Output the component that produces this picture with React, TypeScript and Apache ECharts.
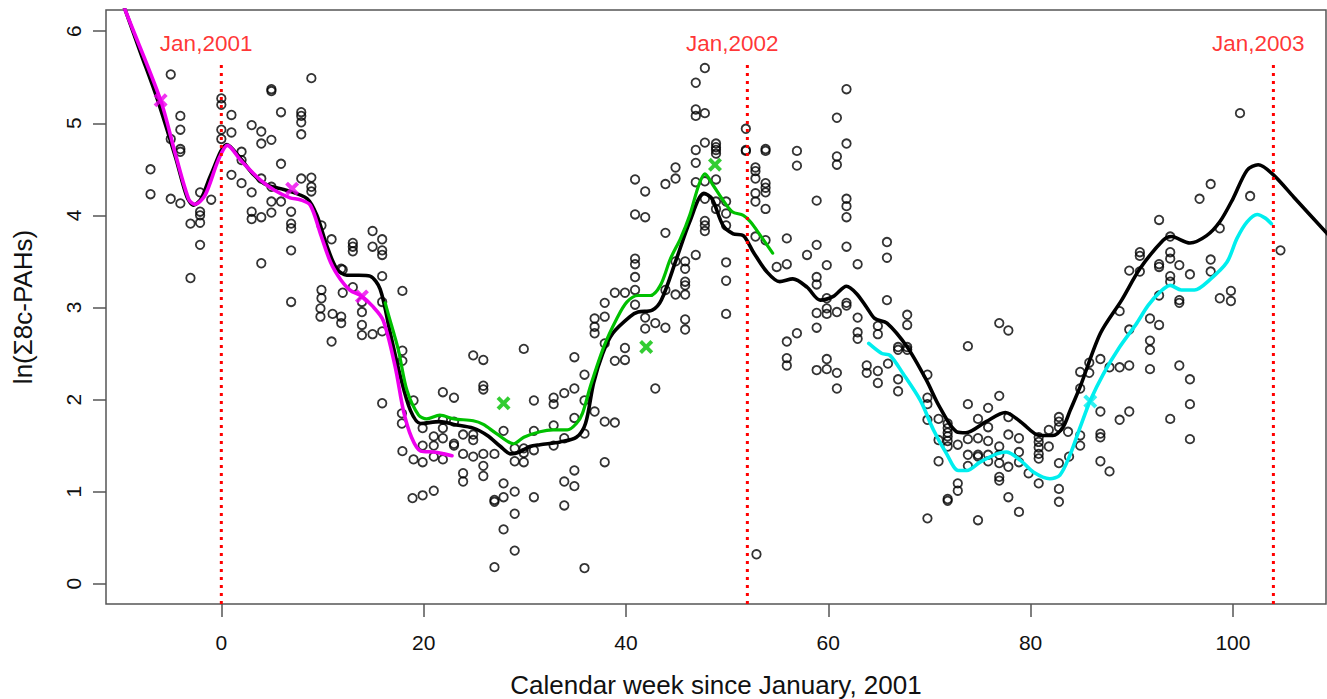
import { useEffect, useRef } from "react";
import * as echarts from "echarts";

// Axis ticks
const weekTicks = [0, 20, 40, 60, 80, 100];
const valueTicks = [0, 1, 2, 3, 4, 5, 6];

// Weekly observations: [calendar week, ln(sum 8c-PAHs)]
const observations: [number, number][] = [
  [-7.0, 4.5], [-7.0, 4.23], [-5.0, 5.53], [-4.05, 5.08], [-4.05, 4.93], [-4.05, 4.72], [-4.05, 4.69],
  [-5.0, 4.83], [-5.0, 4.18], [-4.05, 4.13], [-2.1, 4.25], [-2.1, 4.04], [-2.1, 4.0], [-3.05, 3.91],
  [-2.1, 3.92], [-2.1, 3.68], [-3.05, 3.32], [-1.0, 4.17],
  [0, 5.27], [0, 5.2], [0, 4.93], [0, 4.83], [1.0, 5.09], [1.0, 4.9], [1.0, 4.44], [2.0, 4.69], [2.0, 4.6],
  [2.0, 4.35], [3.0, 4.98], [3.0, 4.25], [3.0, 4.04], [3.0, 3.96], [3.95, 4.91], [3.95, 4.78], [3.95, 4.4],
  [3.95, 3.98], [3.95, 3.48], [4.95, 5.37], [4.95, 5.35], [4.95, 4.82], [4.95, 4.31], [4.95, 4.15],
  [4.95, 4.03], [5.9, 5.12], [5.9, 4.56], [5.9, 4.15], [6.9, 4.04], [6.9, 3.91], [6.9, 3.86], [6.9, 3.62],
  [6.9, 3.06], [7.9, 5.12], [7.9, 5.08], [7.9, 5.01], [7.9, 4.88], [7.9, 4.4], [8.9, 5.49], [8.9, 4.41],
  [8.9, 4.31], [8.9, 4.26], [9.9, 3.89], [9.9, 3.19], [9.9, 3.1], [10.9, 3.74], [11.85, 3.42],
  [9.8, 2.99], [9.8, 2.9], [11.0, 2.93], [11.85, 2.9], [11.85, 2.83], [10.9, 2.63],
  [14.95, 3.83], [15.9, 3.74], [13.0, 3.7], [13.0, 3.66], [13.0, 3.61], [14.95, 3.66], [15.9, 3.62],
  [15.9, 3.57], [12.0, 3.41], [15.9, 3.34], [13.0, 3.22], [17.9, 3.18], [12.0, 3.16],
  [13.9, 3.06], [13.9, 2.95], [13.9, 2.81], [13.9, 2.7], [14.95, 2.71], [15.9, 2.74], [15.9, 3.06],
  [17.9, 2.53], [17.9, 2.42], [15.9, 1.96], [19.0, 1.99], [17.85, 1.85], [17.85, 1.74], [17.9, 1.44],
  [19.0, 1.35], [19.9, 1.32], [19.9, 1.69], [19.9, 1.5], [21.0, 1.6], [21.0, 1.5], [21.0, 1.38],
  [21.9, 2.08], [23.0, 2.02], [21.9, 1.78], [21.9, 1.69], [21.9, 1.58], [21.9, 1.35], [23.0, 1.76],
  [23.0, 1.52], [23.0, 1.5], [23.9, 1.62], [23.9, 1.41], [23.9, 1.2], [23.9, 1.11], [24.9, 2.48],
  [25.9, 2.43], [25.9, 2.15], [25.9, 2.11], [24.9, 1.62], [24.9, 1.56], [24.9, 1.38], [25.9, 1.41],
  [25.9, 1.28], [25.9, 1.17], [27.0, 1.41], [18.9, 0.93], [19.9, 0.96], [21.0, 1.01], [27.9, 1.66],
  [27.9, 1.09], [27.9, 0.94], [27.0, 0.91], [27.0, 0.89], [27.9, 0.59], [27.0, 0.18], [29.0, 1.47],
  [29.0, 1.33], [29.0, 1.0], [29.0, 0.76], [29.0, 0.36], [29.9, 2.55], [29.9, 1.47], [29.9, 1.42],
  [29.9, 1.32], [30.9, 1.99], [30.9, 1.66], [30.9, 1.45], [30.9, 0.94], [32.85, 2.02], [32.85, 1.95],
  [32.85, 1.72], [32.85, 1.5], [33.9, 2.07], [33.9, 1.58], [33.9, 1.11], [33.9, 0.85], [34.9, 2.46],
  [34.9, 2.12], [34.9, 1.8], [34.9, 1.23], [34.9, 1.06], [35.9, 2.27], [35.9, 1.99], [35.9, 1.63],
  [35.9, 0.17],
  [47.8, 5.6], [46.9, 5.44], [46.9, 5.15], [46.9, 5.08], [47.8, 5.11], [47.8, 4.79], [46.9, 4.71],
  [48.9, 4.78], [48.9, 4.74], [48.9, 4.71], [48.9, 4.67], [46.9, 4.57], [44.9, 4.52], [44.9, 4.4],
  [43.9, 4.34], [40.9, 4.39], [41.9, 4.26], [40.9, 4.01], [41.9, 3.98], [43.9, 3.81], [46.9, 4.36],
  [47.8, 4.37], [47.8, 4.18], [47.8, 3.94], [47.8, 3.89], [47.8, 3.83], [48.9, 4.39], [48.9, 4.15],
  [48.9, 4.07], [49.9, 4.15], [49.9, 4.02], [49.9, 3.89], [46.9, 3.57], [49.9, 3.49], [49.9, 3.29],
  [51.85, 4.94], [51.85, 4.71], [51.85, 4.7], [52.8, 4.52], [52.8, 4.48], [52.8, 4.4], [52.8, 4.24],
  [52.8, 4.15], [53.8, 4.72], [53.8, 4.7], [53.8, 4.35], [53.8, 4.3], [53.8, 4.25], [53.8, 4.07],
  [53.8, 3.73], [52.8, 3.77], [54.9, 3.44], [55.9, 3.75], [55.9, 3.47], [56.9, 4.7], [56.9, 4.54],
  [57.9, 3.57], [58.85, 4.16], [58.85, 3.68], [58.85, 3.33], [58.85, 3.25], [59.85, 3.46], [59.85, 3.1],
  [44.9, 3.5], [45.85, 3.5], [45.85, 3.42], [45.85, 3.28], [45.85, 3.24], [44.9, 3.14], [45.85, 3.14],
  [43.9, 3.19], [40.9, 3.53], [40.9, 3.47], [40.9, 3.33], [40.9, 3.19], [38.9, 3.16], [39.9, 3.16],
  [37.9, 3.05], [40.9, 3.03],
  [36.9, 2.88], [36.9, 2.79], [36.9, 2.72], [37.9, 2.9], [37.9, 2.61], [36.9, 1.87], [37.9, 1.76],
  [38.9, 1.75], [37.9, 1.32], [38.9, 2.42], [39.9, 2.56], [39.9, 2.43], [41.9, 2.89], [41.9, 2.77],
  [42.9, 2.83], [43.9, 2.78], [42.9, 2.12], [45.85, 2.87], [45.85, 2.76], [49.9, 2.93], [52.9, 0.32],
  [55.9, 2.63], [56.9, 2.72], [55.9, 2.45], [55.9, 2.37], [58.85, 2.94], [58.85, 2.78], [59.85, 2.99],
  [58.85, 2.32], [59.85, 2.44], [59.85, 2.33],
  [61.8, 5.37], [60.85, 5.06], [61.8, 4.78], [60.85, 4.64], [60.85, 4.55], [61.8, 4.18], [61.8, 4.1],
  [61.8, 3.98], [61.8, 3.66], [62.9, 3.47], [65.8, 3.71], [65.8, 3.54], [65.8, 3.08], [61.8, 3.05],
  [59.85, 2.93], [60.85, 2.95], [61.8, 3.02], [62.9, 2.89], [60.85, 2.29], [60.85, 2.12], [62.9, 2.73],
  [62.9, 2.66], [63.8, 2.37], [63.8, 2.29], [64.9, 2.8], [64.9, 2.71], [64.9, 2.31], [64.9, 2.18],
  [65.9, 2.39], [66.9, 2.57], [66.9, 2.54], [66.9, 2.22], [66.9, 2.09], [67.8, 2.92], [67.8, 2.81],
  [67.8, 2.57], [67.8, 2.54], [69.8, 2.27], [69.8, 2.02], [69.8, 1.95], [69.8, 1.78], [70.9, 1.79],
  [70.9, 1.56], [70.9, 1.33], [69.8, 0.71], [71.8, 1.74], [71.8, 1.69], [71.8, 1.64], [71.8, 1.6],
  [71.8, 1.55], [71.8, 1.49], [71.8, 0.92], [71.8, 0.9], [72.8, 1.51], [72.8, 1.09], [72.8, 1.01],
  [73.8, 2.58], [73.8, 1.95], [73.8, 1.57], [73.8, 1.4], [73.8, 1.28], [74.8, 1.79], [74.8, 1.58],
  [74.8, 1.4], [74.8, 1.38], [74.8, 0.69], [75.8, 1.91], [75.8, 1.7], [75.8, 1.55], [75.8, 1.4],
  [75.8, 1.33], [76.9, 2.83], [77.8, 2.75], [76.9, 2.04], [76.9, 1.49], [76.9, 1.4], [76.9, 1.31],
  [76.9, 1.16], [76.9, 1.12], [77.8, 1.81], [77.8, 1.62], [77.8, 1.27], [77.8, 0.94], [78.85, 1.58],
  [78.85, 1.43], [78.85, 1.32], [78.85, 0.78], [79.8, 1.2], [80.8, 1.59], [80.8, 1.54], [80.8, 1.48],
  [80.8, 1.41], [80.8, 1.36], [80.8, 1.09], [81.8, 1.67], [81.8, 1.49], [82.8, 1.81], [82.8, 1.76],
  [82.8, 1.7], [82.8, 1.31], [82.8, 1.03], [82.8, 0.89], [83.7, 1.65],
  [100.7, 5.11], [97.8, 4.34], [96.7, 4.18], [101.7, 4.21], [92.7, 3.95], [98.7, 3.86], [93.8, 3.77],
  [104.7, 3.62], [90.8, 3.6], [90.8, 3.56], [93.8, 3.6], [93.8, 3.53], [94.7, 3.46], [97.8, 3.52],
  [97.8, 3.39], [92.7, 3.47], [92.7, 3.44], [89.75, 3.4], [90.8, 3.39], [93.8, 3.34], [93.8, 3.28],
  [95.75, 3.36], [92.7, 3.13], [94.7, 3.08], [94.7, 3.05], [98.7, 3.1], [99.8, 3.18], [99.8, 3.07],
  [88.8, 2.96], [89.75, 2.76], [91.8, 2.88], [92.7, 2.81], [91.8, 2.64], [91.8, 2.54], [91.8, 2.33],
  [94.7, 2.37], [95.75, 2.22], [95.75, 1.95], [95.75, 1.57], [93.8, 1.79], [89.75, 2.37], [88.8, 2.35],
  [87.8, 2.35], [86.9, 2.44], [85.8, 2.4], [85.8, 2.29], [84.9, 2.3], [84.9, 2.12], [86.9, 1.87],
  [88.8, 1.78], [89.75, 1.87], [86.9, 1.63], [86.9, 1.59], [86.9, 1.33], [87.8, 1.22], [84.9, 1.61],
  [84.9, 1.5], [83.8, 1.38],
];

// Smoothed trend over all weeks
const trendAll: [number, number][] = [
  [-10.5, 6.53], [-9.5, 6.23], [-8.0, 5.77], [-6.35, 5.27], [-4.5, 4.62], [-3.4, 4.2], [-2.74, 4.11],
  [-2.0, 4.18], [-1.0, 4.45], [0.56, 4.77], [1.88, 4.62], [3.2, 4.44], [4.5, 4.33], [6.5, 4.27],
  [8.5, 4.18], [9.45, 4.0], [10.4, 3.68], [11.4, 3.42], [12.4, 3.35], [13.6, 3.35], [14.7, 3.34],
  [15.7, 3.2], [16.7, 2.72], [17.7, 2.25], [18.7, 1.88], [19.7, 1.74], [21.6, 1.76], [23.0, 1.73],
  [24.9, 1.69], [26.3, 1.61], [27.6, 1.49], [28.6, 1.41], [29.5, 1.43], [30.5, 1.49], [31.5, 1.51],
  [33.5, 1.54], [35.1, 1.59], [36.0, 1.74], [36.8, 2.18], [37.7, 2.5], [38.7, 2.72], [40.4, 2.9],
  [41.2, 2.95], [42.6, 2.97], [43.5, 3.08], [45.0, 3.53], [46.3, 3.93], [47.7, 4.24], [48.5, 4.18],
  [49.6, 3.89], [50.6, 3.8], [51.6, 3.78], [52.6, 3.6], [53.9, 3.39], [55.2, 3.28], [56.5, 3.31],
  [57.9, 3.22], [59.2, 3.08], [60.5, 3.12], [61.8, 3.23], [62.8, 3.15], [63.8, 3.0], [64.6, 2.88],
  [65.8, 2.83], [67.8, 2.57], [69.7, 2.21], [71.0, 1.92], [72.7, 1.65], [73.6, 1.64], [75.6, 1.76],
  [77.5, 1.86], [79.0, 1.76], [80.9, 1.61], [82.2, 1.61], [83.2, 1.7], [83.9, 1.88], [84.9, 2.14],
  [86.9, 2.72], [89.0, 3.08], [90.8, 3.42], [93.1, 3.73], [93.9, 3.77], [95.75, 3.7], [97.4, 3.78],
  [98.7, 3.93], [100.0, 4.18], [101.4, 4.49], [102.5, 4.55], [104.0, 4.44], [106.0, 4.2], [109.5, 3.78],
];

// Smoothed trends per year
const trend2001: [number, number][] = [
  [-10.5, 6.55], [-9.5, 6.23], [-6.0, 5.25], [-4.5, 4.65], [-3.2, 4.17], [-2.6, 4.12], [-1.6, 4.22],
  [-0.3, 4.6], [0.6, 4.76], [1.9, 4.6], [3.9, 4.38], [5.3, 4.27], [6.8, 4.19], [7.8, 4.17], [8.8, 4.11],
  [9.8, 3.8], [10.8, 3.49], [11.8, 3.3], [12.7, 3.19], [13.9, 3.12], [14.9, 3.02], [16.0, 2.86],
  [17.2, 2.35], [18.0, 1.88], [18.8, 1.59], [19.7, 1.44], [21.0, 1.43], [22.0, 1.41], [22.8, 1.39],
];
const trend2002: [number, number][] = [
  [16.2, 3.05], [16.5, 2.93], [17.5, 2.54], [18.35, 2.1], [19.5, 1.83], [20.3, 1.79], [21.6, 1.83],
  [23.0, 1.79], [24.9, 1.77], [25.9, 1.73], [27.2, 1.63], [28.9, 1.52], [29.9, 1.59], [31.5, 1.65],
  [32.8, 1.67], [34.2, 1.67], [35.1, 1.74], [35.7, 1.85], [36.5, 2.15], [37.8, 2.57], [39.1, 2.88],
  [40.1, 3.06], [41.2, 3.13], [42.4, 3.13], [43.4, 3.24], [44.4, 3.53], [45.4, 3.75], [46.3, 4.0],
  [47.2, 4.33], [47.8, 4.45], [48.6, 4.33], [49.5, 4.18], [50.5, 4.04], [51.6, 4.0], [52.3, 3.93],
  [53.3, 3.78], [54.5, 3.59],
];
const trend2003: [number, number][] = [
  [64.0, 2.61], [65.3, 2.5], [66.1, 2.48], [67.4, 2.28], [69.1, 1.99], [70.4, 1.67], [71.7, 1.41],
  [72.85, 1.23], [73.7, 1.23], [75.0, 1.32], [76.65, 1.41], [77.6, 1.43], [79.0, 1.34], [80.3, 1.21],
  [81.9, 1.14], [82.9, 1.18], [83.9, 1.4], [84.9, 1.7], [85.9, 1.99], [87.2, 2.28], [88.8, 2.57],
  [90.5, 2.83], [91.6, 3.02], [92.8, 3.17], [93.8, 3.24], [94.9, 3.19], [96.2, 3.19], [97.7, 3.3],
  [99.4, 3.49], [100.4, 3.75], [101.4, 3.93], [102.4, 4.01], [103.2, 3.97], [103.8, 3.91],
];

// Highlighted weeks on each yearly trend
const marks2001: [number, number][] = [[-6.0, 5.25], [7.0, 4.29], [13.9, 3.12]];
const marks2002: [number, number][] = [[27.9, 1.96], [42.0, 2.57], [48.8, 4.55]];
const marks2003: [number, number][] = [[85.9, 1.98]];

// Year boundaries
const yearStartWeeks = [0, 52, 104];
const yearLabels = ["Jan,2001", "Jan,2002", "Jan,2003"];
const yearLabelWeeks = [-1.5, 50.5, 102.5];
const yearLabelLevel = 5.87;
const yearLineTop = 5.68;

const X_MIN = -11.4;
const X_MAX = 109.2;
const Y_MIN = -0.22;
const Y_MAX = 6.23;

const FONT = '"Liberation Sans", Arial, sans-serif';
const CROSS = "path://M2,0 L5,3 L8,0 L10,2 L7,5 L10,8 L8,10 L5,7 L2,10 L0,8 L3,5 L0,2 Z";

const trendLine = (data: [number, number][], color: string, width: number, z: number) => ({
  type: "line",
  data,
  showSymbol: false,
  symbol: "none",
  smooth: 0.3,
  lineStyle: { color, width, cap: "round", join: "round" },
  z,
  silent: true,
});

const crossMarks = (data: [number, number][], color: string) => ({
  type: "scatter",
  data,
  symbol: CROSS,
  symbolSize: 14,
  itemStyle: { color },
  z: 6,
  silent: true,
});

export default function App() {
  const ref = useRef<HTMLDivElement>(null);

  useEffect(() => {
    if (!ref.current) return;
    const chart = echarts.init(ref.current, null, { renderer: "svg" });

    const boundarySeries = yearStartWeeks.map((w) => ({
      type: "line",
      data: [
        [w, Y_MIN],
        [w, yearLineTop],
      ],
      showSymbol: false,
      symbol: "none",
      lineStyle: { color: "#ff0000", width: 3, type: [3, 5] },
      z: 7,
      silent: true,
    }));

    chart.setOption({
      animation: false,
      backgroundColor: "#ffffff",
      textStyle: { fontFamily: FONT },
      grid: {
        left: 106,
        right: 1,
        top: 10,
        bottom: 95,
        containLabel: false,
        outerBoundsMode: "none",
        show: true,
        borderColor: "#555555",
        borderWidth: 1.5,
      },
      xAxis: {
        type: "value",
        min: X_MIN,
        max: X_MAX,
        name: "Calendar week since January, 2001",
        nameLocation: "middle",
        nameGap: 68,
        nameTextStyle: { fontSize: 26, color: "#111", fontFamily: FONT },
        axisLine: { show: false, onZero: false },
        axisTick: { show: true, length: 13, lineStyle: { color: "#555", width: 1.5 }, customValues: weekTicks },
        axisLabel: { fontSize: 21, color: "#111", margin: 28, customValues: weekTicks, fontFamily: FONT },
        splitLine: { show: false },
      },
      yAxis: {
        type: "value",
        min: Y_MIN,
        max: Y_MAX,
        name: "ln(Σ8c-PAHs)",
        nameLocation: "middle",
        nameRotate: 90,
        nameGap: 70,
        nameTextStyle: { fontSize: 26, color: "#111", fontFamily: FONT },
        axisLine: { show: false, onZero: false },
        axisTick: { show: true, length: 13, lineStyle: { color: "#555", width: 1.5 }, customValues: valueTicks },
        axisLabel: { fontSize: 21, color: "#111", margin: 22, rotate: 90, customValues: valueTicks, fontFamily: FONT },
        splitLine: { show: false },
      },
      series: [
        {
          type: "scatter",
          data: observations,
          symbol: "circle",
          symbolSize: 8.5,
          itemStyle: { color: "rgba(0,0,0,0)", borderColor: "#000000", borderWidth: 1.8 },
          z: 2,
          silent: true,
        },
        trendLine(trendAll, "#000000", 3.6, 3),
        trendLine(trend2001, "#ee00ee", 3.6, 4),
        trendLine(trend2002, "#00c000", 3.2, 4),
        trendLine(trend2003, "#00eeee", 3.6, 4),
        crossMarks(marks2001, "#ee00ee"),
        crossMarks(marks2002, "#00c000"),
        crossMarks(marks2003, "#00eeee"),
        ...boundarySeries,
        {
          type: "scatter",
          data: yearLabels.map((name, i) => ({ name, value: [yearLabelWeeks[i], yearLabelLevel] })),
          symbol: "circle",
          symbolSize: 1,
          itemStyle: { color: "rgba(0,0,0,0)" },
          label: {
            show: true,
            position: "inside",
            formatter: "{b}",
            color: "#ff0000",
            fontSize: 22.5,
            fontFamily: FONT,
          },
          z: 8,
          silent: true,
        },
      ],
    });

    return () => chart.dispose();
  }, []);

  return (
    <div
      ref={ref}
      style={{ position: "fixed", left: 0, top: 0, width: 1327, height: 699, background: "#fff" }}
    />
  );
}
